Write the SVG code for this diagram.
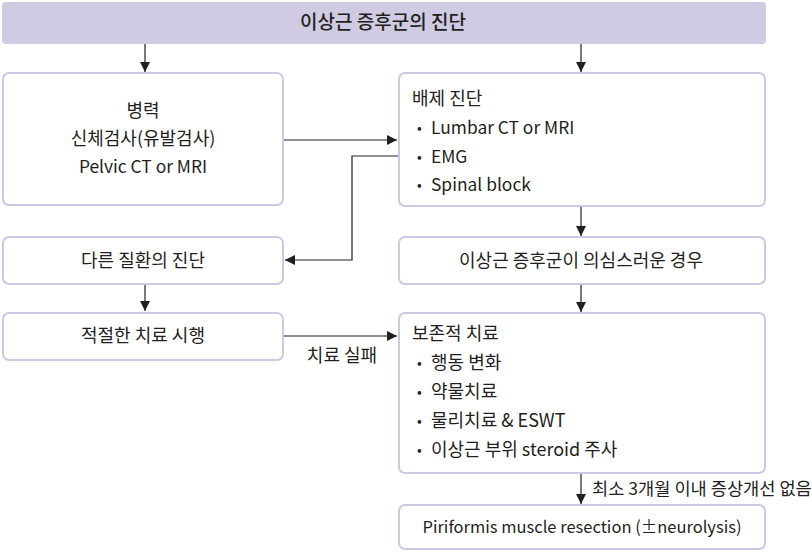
<svg xmlns="http://www.w3.org/2000/svg" width="812" height="552" viewBox="0 0 812 552">
<defs>
<marker id="ah" viewBox="0 0 10 10" refX="10" refY="5" markerWidth="10" markerHeight="10" markerUnits="userSpaceOnUse" orient="auto">
<path d="M0,0 L10,5 L0,10 z" fill="#231f20"/>
</marker>
<style>
text{font-family:"Noto Sans CJK KR","Noto Sans",sans-serif;font-size:18px;fill:#231f20;}
.l{font-size:17.4px;}
.c{text-anchor:middle;}
.b{font-size:14px;}
.box{fill:#ffffff;stroke:#cdc9e4;stroke-width:2;}
.ln{fill:none;stroke:#231f20;stroke-width:1.2;}
</style>
</defs>
<rect width="812" height="552" fill="#ffffff"/>
<g id="title">
<rect x="2" y="2" width="764" height="42" rx="4" fill="#d0cbe3"/>
<text x="383" y="29" class="c" style="font-size:19px;font-weight:500">이상근 증후군의 진단</text>
</g>
<g id="history">
<rect class="box" x="3" y="73" width="280" height="132" rx="6"/>
<text x="143" y="117" class="c">병력</text>
<text x="143" y="145" class="c">신체검사(유발검사)</text>
<text x="143" y="173" class="c l">Pelvic CT or MRI</text>
</g>
<g id="exclusion">
<rect class="box" x="399" y="73" width="366" height="133" rx="6"/>
<text x="412" y="105">배제 진단</text>
<text x="417" y="133" class="b">•</text><text x="431" y="134" class="l">Lumbar CT or MRI</text>
<text x="417" y="162" class="b">•</text><text x="431" y="163" class="l">EMG</text>
<text x="417" y="190" class="b">•</text><text x="431" y="191" class="l">Spinal block</text>
</g>
<g id="other">
<rect class="box" x="3" y="237" width="280" height="47" rx="6"/>
<text x="143" y="267" class="c">다른 질환의 진단</text>
</g>
<g id="suspect">
<rect class="box" x="399" y="237" width="366" height="47" rx="6"/>
<text x="581" y="267" class="c">이상근 증후군이 의심스러운 경우</text>
</g>
<g id="treat">
<rect class="box" x="3" y="313" width="280" height="47" rx="6"/>
<text x="143" y="342" class="c">적절한 치료 시행</text>
</g>
<g id="conservative">
<rect class="box" x="399" y="313" width="366" height="160" rx="6"/>
<text x="412" y="340">보존적 치료</text>
<text x="417" y="368" class="b">•</text><text x="431" y="369">행동 변화</text>
<text x="417" y="397" class="b">•</text><text x="431" y="398">약물치료</text>
<text x="417" y="426" class="b">•</text><text x="431" y="427">물리치료 &amp; ESWT</text>
<text x="417" y="455" class="b">•</text><text x="431" y="456">이상근 부위 steroid 주사</text>
</g>
<g id="surgery">
<rect class="box" x="399" y="505" width="366" height="44" rx="6"/>
<text x="582" y="533" class="c" style="font-size:16.5px">Piriformis muscle resection (±neurolysis)</text>
</g>
<g id="connectors">
<line class="ln" x1="145" y1="44" x2="145" y2="72" marker-end="url(#ah)"/>
<line class="ln" x1="581" y1="44" x2="581" y2="72" marker-end="url(#ah)"/>
<line class="ln" x1="284" y1="140" x2="397" y2="140" marker-end="url(#ah)"/>
<polyline class="ln" points="398,156 352,156 352,260 285,260" marker-end="url(#ah)"/>
<line class="ln" x1="581" y1="207" x2="581" y2="236" marker-end="url(#ah)"/>
<line class="ln" x1="581" y1="285" x2="581" y2="312" marker-end="url(#ah)"/>
<line class="ln" x1="145" y1="285" x2="145" y2="311" marker-end="url(#ah)"/>
<line class="ln" x1="284" y1="336" x2="397" y2="336" marker-end="url(#ah)"/>
<text x="342" y="362" class="c">치료 실패</text>
<line class="ln" x1="581" y1="474" x2="581" y2="504" marker-end="url(#ah)"/>
<text x="592" y="495" style="font-size:17.6px">최소 3개월 이내 증상개선 없음</text>
</g>
</svg>
